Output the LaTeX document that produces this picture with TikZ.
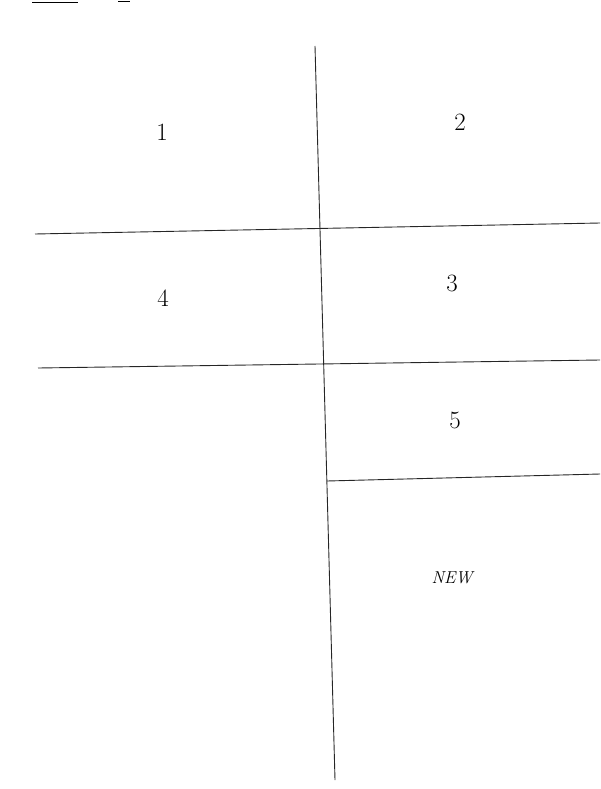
\documentclass[tikz,border=0pt]{standalone}
\begin{document}
\begin{tikzpicture}[x=1pt,y=-1pt,pen/.style={draw=black!85,line width=0.9pt},cellnum/.style={font=\Huge}]
            \useasboundingbox (0,0) rectangle (600,789);
            % corner marks of the scan
            \coordinate (m1) at (32,3); \coordinate (m2) at (78,3);
            \coordinate (m3) at (118,2); \coordinate (m4) at (130,2);
            \draw[line width=1pt] (m1) -- (m2);
            \draw[line width=1pt] (m3) -- (m4);
            % main divider
            \coordinate (top) at (315,46);
            \coordinate (bot) at (335,780);
            \draw[pen] (top) -- (bot);
            % cross lines
            \coordinate (a1) at (35,234); \coordinate (a2) at (600,223);
            \coordinate (b1) at (38,368); \coordinate (b2) at (600,360);
            \coordinate (c1) at (327,481); \coordinate (c2) at (600,474);
            \draw[pen] (a1) -- (a2);
            \draw[pen] (b1) -- (b2);
            \draw[pen] (c1) -- (c2);
            % cell labels
            \node[cellnum] (one) at (162,132) {1};
            \node[cellnum] (two) at (460,122) {2};
            \node[cellnum] (four) at (163,298) {4};
            \node[cellnum] (three) at (452,283) {3};
            \node[cellnum] (five) at (455,420) {5};
            \node[font=\LARGE\itshape] (new) at (452,578) {NEW};
\end{tikzpicture}
\end{document}
